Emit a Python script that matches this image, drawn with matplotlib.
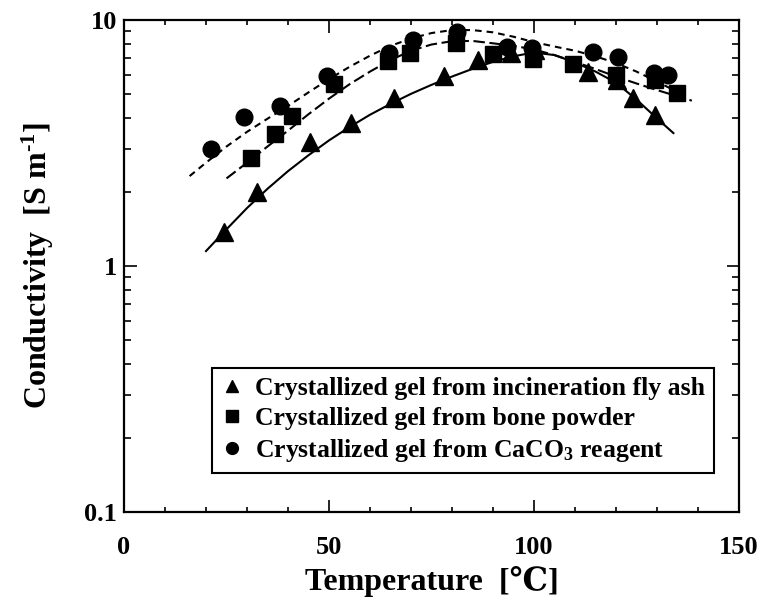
import matplotlib
matplotlib.use("Agg")
import matplotlib.pyplot as plt
from matplotlib.ticker import FixedLocator, FixedFormatter, LogLocator, NullFormatter, MultipleLocator
from matplotlib.lines import Line2D

plt.rcParams['font.family'] = ['Liberation Serif', 'DejaVu Serif', 'Noto Sans CJK JP']
plt.rcParams['font.weight'] = 'bold'
plt.rcParams['mathtext.fontset'] = 'custom'
plt.rcParams['mathtext.rm'] = 'Liberation Serif:bold'
plt.rcParams['mathtext.it'] = 'Liberation Serif:bold'
plt.rcParams['mathtext.bf'] = 'Liberation Serif:bold'
plt.rcParams['mathtext.default'] = 'rm'

# ---- data ----
labels = ["Crystallized gel from incineration fly ash",
          "Crystallized gel from bone powder",
          "Crystallized gel from CaCO$_3$ reagent"]

ash_T = [24.5, 32.4, 45.4, 55.3, 65.9, 78.0, 86.4, 94.3, 100.2, 113.2, 120.2, 124.1, 129.5]
ash_s = [1.38, 2.00, 3.20, 3.82, 4.80, 5.93, 6.87, 7.36, 7.55, 6.17, 5.70, 4.82, 4.10]

bone_T = [30.9, 36.9, 41.0, 51.1, 64.3, 69.8, 81.0, 90.0, 99.8, 109.5, 120.0, 129.4, 134.8]
bone_s = [2.74, 3.44, 4.06, 5.50, 6.80, 7.35, 8.10, 7.30, 6.92, 6.65, 5.95, 5.70, 5.05]

caco_T = [21.3, 29.3, 38.1, 49.5, 64.6, 70.6, 81.3, 93.4, 99.6, 114.5, 120.5, 129.3, 132.8]
caco_s = [3.00, 4.02, 4.49, 5.92, 7.32, 8.30, 8.96, 7.78, 7.70, 7.43, 7.10, 6.10, 5.97]

# fitted curves as drawn in the reference (read points)
ash_fit_T = [20, 25, 30, 35, 40, 45, 50, 55, 60, 65, 70, 75, 80, 85, 90, 95, 100, 105, 110, 115, 120, 125, 130, 134]
ash_fit_s = [1.15, 1.41, 1.72, 2.06, 2.43, 2.82, 3.24, 3.67, 4.12, 4.56, 5.01, 5.45, 5.89, 6.33, 6.76, 7.12, 7.38, 7.20, 6.72, 6.17, 5.56, 4.75, 3.98, 3.47]

bone_fit_T = [25, 30, 35, 40, 45, 50, 55, 60, 65, 70, 75, 80, 85, 90, 95, 100, 105, 110, 115, 120, 125, 130, 138.5]
bone_fit_s = [2.27, 2.63, 3.06, 3.55, 4.14, 4.79, 5.48, 6.17, 6.87, 7.50, 7.95, 8.20, 8.22, 8.04, 7.85, 7.59, 7.20, 6.76, 6.32, 5.89, 5.52, 5.19, 4.70]

caco_fit_T = [16, 20, 25, 30, 35, 40, 45, 50, 55, 60, 65, 70, 75, 80, 85, 90, 95, 100, 105, 110, 115, 120, 125, 130, 137]
caco_fit_s = [2.32, 2.63, 3.06, 3.51, 3.97, 4.47, 5.08, 5.75, 6.45, 7.16, 7.85, 8.41, 8.85, 9.10, 9.10, 8.91, 8.55, 8.13, 7.80, 7.50, 7.12, 6.68, 6.17, 5.62, 4.90]

xticks = [0, 50, 100, 150]
yticks = [0.1, 1, 10]
yticklabels = ["0.1", "1", "10"]

# ---- figure ----
fig = plt.figure(figsize=(7.63, 6.03), dpi=100)
ax = fig.add_axes([124/763, 1-512/603, 615/763, 492/603])

lw = 1.5
ax.plot(ash_fit_T, ash_fit_s, color='black', lw=lw, zorder=2)
ax.plot(bone_fit_T, bone_fit_s, color='black', lw=lw, dashes=(5.5, 2.2), zorder=2)
ax.plot(caco_fit_T, caco_fit_s, color='black', lw=lw, dashes=(3.2, 2.4), zorder=2)

ax.plot(ash_T, ash_s, linestyle='none', marker='^', ms=13, color='black', zorder=3)
ax.plot(bone_T, bone_s, linestyle='none', marker='s', ms=11.5, color='black', zorder=3)
ax.plot(caco_T, caco_s, linestyle='none', marker='o', ms=12, color='black', zorder=3)

ax.set_yscale('log')
ax.set_xlim(0, 150)
ax.set_ylim(0.1, 10)

ax.xaxis.set_major_locator(FixedLocator(xticks))
ax.xaxis.set_minor_locator(MultipleLocator(10))
ax.yaxis.set_major_locator(FixedLocator(yticks))
ax.yaxis.set_major_formatter(FixedFormatter(yticklabels))
ax.yaxis.set_minor_locator(LogLocator(base=10, subs=range(2, 10)))
ax.yaxis.set_minor_formatter(NullFormatter())

for sp in ax.spines.values():
    sp.set_linewidth(1.6)

ax.tick_params(which='both', direction='in', top=True, right=True, width=1.2)
ax.tick_params(axis='x', which='major', length=9, pad=17, labelsize=19)
ax.tick_params(axis='y', which='major', length=9, pad=5, labelsize=19)
ax.tick_params(axis='x', which='minor', length=3.5)
ax.tick_params(axis='y', which='minor', length=5)

ax.set_xlabel("Temperature  [℃]", fontsize=23, fontweight='bold', labelpad=5)
ax.set_ylabel("Conductivity  [S m$^{\u2010 1}$]", fontsize=23, fontweight='bold', labelpad=20)

handles = [Line2D([], [], linestyle='none', marker='^', ms=9, color='black'),
           Line2D([], [], linestyle='none', marker='s', ms=8, color='black'),
           Line2D([], [], linestyle='none', marker='o', ms=8.5, color='black')]
leg = ax.legend(handles, labels, loc='lower right', bbox_to_anchor=(0.959, 0.079),
                borderaxespad=0, fancybox=False, edgecolor='black',
                prop={'family': ['Liberation Serif'], 'weight': 'bold', 'size': 18.5},
                handlelength=0.8, handletextpad=0.5, labelspacing=0.28,
                borderpad=0.35, framealpha=1)
leg.get_frame().set_linewidth(1.5)

fig.savefig("out.png", dpi=100)
